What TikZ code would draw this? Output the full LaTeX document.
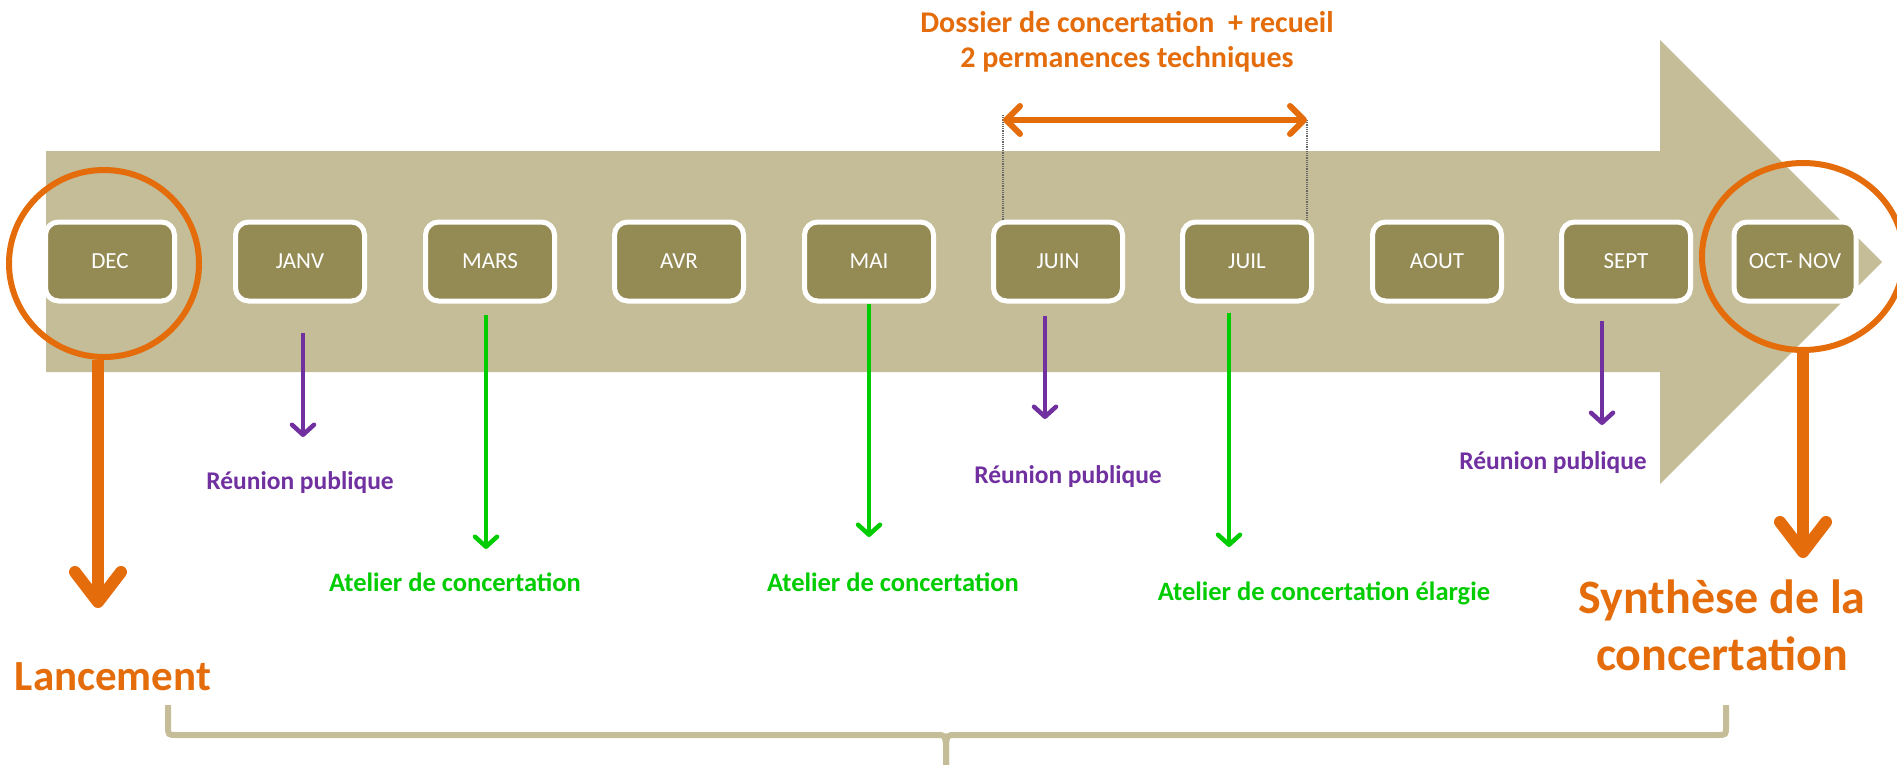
\documentclass[tikz,border=0pt]{standalone}
\usepackage{fontspec}
\setmainfont{Carlito}
\usetikzlibrary{arrows.meta,shapes.geometric}

\definecolor{arrowtan}{HTML}{C4BD97}
\definecolor{boxolive}{HTML}{948A54}
\definecolor{mainorange}{HTML}{E46C0A}
\definecolor{pubpurple}{HTML}{7030A0}
\definecolor{atgreen}{HTML}{00CC00}

\tikzset{
	month/.style={rectangle, rounded corners=13, draw=white, line width=5, fill=boxolive,
		text=white, minimum width=129, minimum height=79, inner sep=0,
		font=\fontsize{23}{27}\selectfont},
	ring/.style={ellipse, draw=mainorange, line width=6, inner sep=0},
	pub/.style={draw=pubpurple, line width=4.5, -{Straight Barb[length=10pt,width=22pt,round]}},
	atl/.style={draw=atgreen, line width=4.5, -{Straight Barb[length=10pt,width=22pt,round]}},
	big/.style={draw=mainorange, line width=12, -{Straight Barb[length=30pt,width=46pt,round]}},
	pubtext/.style={text=pubpurple, anchor=base, font=\fontsize{25.5}{30}\selectfont\bfseries},
	attext/.style={text=atgreen, anchor=base, font=\fontsize{26.5}{31}\selectfont\bfseries},
	guide/.style={draw=black!60, line width=1.2, densely dotted},
	brace/.style={draw=arrowtan, line width=6}
}

\begin{document}
\begin{tikzpicture}[x=1pt, y=-1pt]
	\useasboundingbox (0,0) rectangle (1897,765);

	\fill[arrowtan] (46,151) -- (1660,151) -- (1660,40) -- (1882,262)
		-- (1660,484) -- (1660,372) -- (46,372) -- cycle;

	\foreach \m/\x/\n in {DEC/110/dec, JANV/300/janv, MARS/490/mars, AVR/679/avr,
		MAI/869/mai, JUIN/1058/juin, JUIL/1247/juil, AOUT/1437/aout, SEPT/1626/sept}
		\node[month] (\n) at (\x,261.5) {\m};
	\node[month, minimum width=122] (octnov) at (1795,261.5) {OCT- NOV};

	\node[ring, minimum width=190, minimum height=187] (cdec) at (104,263.5) {};
	\node[ring, minimum width=202, minimum height=187] (coct) at (1803,256.5) {};

	\node[text=mainorange, align=center, anchor=base, font=\fontsize{30}{35}\selectfont\bfseries]
		(dossier) at (1127,68) {Dossier de concertation~~+ recueil\\2 permanences techniques};
	\coordinate (dl) at (1003,120);
	\coordinate (dr) at (1307,120);
	\draw[guide] (dl) ++(0,-5) -- (dl |- juin.north);
	\draw[guide] (dr) -- (dr |- juil.north);
	\draw[draw=mainorange, line width=6, {Straight Barb[length=14pt,width=28pt,round]}-{Straight Barb[length=14pt,width=28pt,round]}] (dl) -- (dr);

	\node[pubtext] (rp1) at (300,489) {Réunion publique};
	\node[pubtext] (rp2) at (1068,483) {Réunion publique};
	\node[pubtext] (rp3) at (1553,469) {Réunion publique};
	\node[attext] (at1) at (455,591) {Atelier de concertation};
	\node[attext] (at2) at (893,591) {Atelier de concertation};
	\node[attext] (at3) at (1324,600) {Atelier de concertation élargie};
	\node[text=mainorange, anchor=base, font=\fontsize{43}{50}\selectfont\bfseries]
		(lanc) at (113,690) {Lancement};
	\node[text=mainorange, align=center, anchor=base, font=\fontsize{48}{57}\selectfont\bfseries]
		(synth) at (1722,670) {Synthèse de la\\concertation};

	\coordinate (t1) at (303,437);
	\coordinate (t2) at (1045,419);
	\coordinate (t3) at (1602,425);
	\coordinate (t4) at (486,549);
	\coordinate (t5) at (869,537);
	\coordinate (t6) at (1229,547);
	\coordinate (tdec) at (98,608);
	\coordinate (toct) at (1803,558);

	\draw[pub, shorten <=29] (janv.south -| t1) -- (t1);
	\draw[pub, shorten <=12] (juin.south -| t2) -- (t2);
	\draw[pub, shorten <=17] (sept.south -| t3) -- (t3);
	\draw[atl, shorten <=11] (mars.south -| t4) -- (t4);
	\draw[atl] (mai.south -| t5) -- (t5);
	\draw[atl, shorten <=9] (juil.south -| t6) -- (t6);
	\draw[big] (cdec.south -| tdec) -- (tdec);
	\draw[big] (coct.south) -- (toct);

	\draw[brace] (168,705) -- (168,726) .. controls (168,735) .. (177,735) -- (936,735)
		.. controls (945,735) .. (946,745) -- (946,766);
	\draw[brace] (1726,705) -- (1726,726) .. controls (1726,735) .. (1717,735) -- (956,735)
		.. controls (947,735) .. (946,745) -- (946,766);
\end{tikzpicture}
\end{document}
